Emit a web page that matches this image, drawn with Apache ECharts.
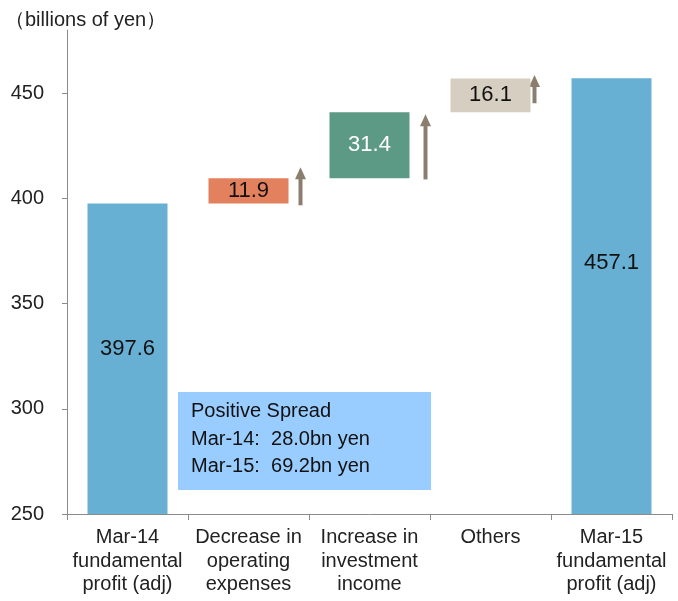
<!DOCTYPE html>
<html>
<head>
<meta charset="utf-8">
<script src="https://cdn.jsdelivr.net/npm/echarts@6/dist/echarts.min.js"></script>
<style>
  html, body { margin: 0; padding: 0; background: #fff; }
  #chart { width: 678px; height: 601px; }
</style>
</head>
<body>
<div id="chart"></div>
<script>
// data
const categories = [
  'Mar-14\nfundamental\nprofit (adj)',
  'Decrease in\noperating\nexpenses',
  'Increase in\ninvestment\nincome',
  'Others',
  'Mar-15\nfundamental\nprofit (adj)'
];
const startValue = 397.6;
const endValue = 457.1;
const changes = [11.9, 31.4, 16.1];
// arrows next to each step (from / to, in billions of yen)
const arrowFrom = [396.7, 409.0, 445.2];
const arrowTo = [414.8, 440.0, 458.6];
const yTicks = [250, 300, 350, 400, 450];

const FONT = "'Liberation Sans', Arial, sans-serif";
const changeColors = ['#E3805D', '#5C9A85', '#D6CEC1'];
const changeText = ['#111', '#fff', '#111'];
const arrowShift = [52, 56, 44];

// running base for the floating bars
let base = [];
let acc = startValue;
changes.forEach(function (c) {
    base.push(acc);
    acc += c;
});

const chart = echarts.init(document.getElementById('chart'));

const option = {
    animation: false,
    textStyle: { fontFamily: FONT },
    title: {
        text: '（billions of yen）',
        left: 0,
        top: 5,
        textStyle: { fontSize: 20, fontWeight: 'normal', color: '#222', fontFamily: FONT }
    },
    grid: { left: 67, right: 6, top: 30, bottom: 87 },
    xAxis: {
        type: 'category',
        data: categories,
        axisLine: { lineStyle: { color: '#8a8a8a', width: 1 } },
        axisTick: { show: true, length: 6, lineStyle: { color: '#8a8a8a' } },
        axisLabel: {
            fontSize: 20,
            lineHeight: 23.5,
            color: '#222',
            margin: 12,
            interval: 0
        }
    },
    yAxis: {
        type: 'value',
        min: 250,
        max: 480,
        interval: 50,
        splitLine: { show: false },
        axisLine: { show: true, lineStyle: { color: '#8a8a8a', width: 1 } },
        axisTick: { show: true, length: 5, customValues: yTicks, lineStyle: { color: '#8a8a8a' } },
        axisLabel: { fontSize: 20, color: '#222', margin: 23, customValues: yTicks }
    },
    series: [
        {
            name: 'total',
            type: 'bar',
            barWidth: 80,
            barGap: '-100%',
            itemStyle: { color: '#67AFD3' },
            label: {
                show: true,
                position: 'inside',
                fontSize: 22,
                color: '#111'
            },
            data: [
                { value: startValue, label: { offset: [0, -10] } },
                '-', '-', '-',
                { value: endValue, label: { offset: [0, -33] } }
            ]
        },
        {
            name: 'base',
            type: 'bar',
            stack: 'w',
            barWidth: 80,
            itemStyle: { color: 'transparent' },
            emphasis: { disabled: true },
            data: ['-'].concat(base, ['-'])
        },
        {
            name: 'change',
            type: 'bar',
            stack: 'w',
            barWidth: 80,
            label: { show: true, position: 'inside', fontSize: 22 },
            data: ['-'].concat(changes.map(function (v, i) {
                return {
                    value: v,
                    itemStyle: { color: changeColors[i] },
                    label: { color: changeText[i] }
                };
            }), ['-'])
        },
        {
            name: 'arrows',
            type: 'custom',
            silent: true,
            data: arrowFrom.map(function (f, i) { return [i + 1, f, arrowTo[i]]; }),
            renderItem: function (params, api) {
                const i = api.value(0);
                const p0 = api.coord([i, api.value(1)]);
                const p1 = api.coord([i, api.value(2)]);
                const x = p0[0] + arrowShift[params.dataIndex];
                const head = 12;
                return {
                    type: 'group',
                    children: [
                        {
                            type: 'line',
                            shape: { x1: x, y1: p0[1], x2: x, y2: p1[1] + head - 1 },
                            style: { stroke: '#8C7E6E', lineWidth: 4 }
                        },
                        {
                            type: 'polygon',
                            shape: { points: [[x - 5.5, p1[1] + head], [x + 5.5, p1[1] + head], [x, p1[1]]] },
                            style: { fill: '#8C7E6E' }
                        }
                    ]
                };
            }
        }
    ],
    graphic: [
        {
            type: 'group',
            left: 178,
            top: 392,
            children: [
                {
                    type: 'rect',
                    shape: { x: 0, y: 0, width: 253, height: 98 },
                    style: { fill: '#99CCFF' }
                },
                {
                    type: 'text',
                    x: 13,
                    y: 6,
                    style: {
                        text: 'Positive Spread\nMar-14:  28.0bn yen\nMar-15:  69.2bn yen',
                        fontSize: 20,
                        lineHeight: 27.5,
                        fill: '#111',
                        fontFamily: FONT
                    }
                }
            ]
        }
    ]
};

chart.setOption(option);
</script>
</body>
</html>
